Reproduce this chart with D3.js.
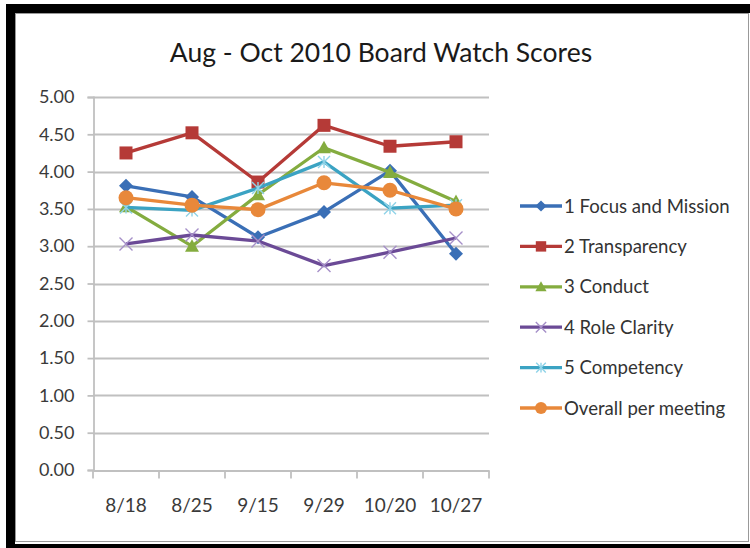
<!DOCTYPE html>
<html>
<head>
<meta charset="utf-8">
<script src="https://cdn.jsdelivr.net/npm/d3@7"></script>
<style>
  body { margin: 0; background: #fff; }
  svg { display: block; font-family: Lato, "Open Sans", sans-serif; }
</style>
</head>
<body>
<div id="chart"></div>
<script>
const meetings = ["8/18", "8/25", "9/15", "9/29", "10/20", "10/27"];
const yTicks = [0, 0.5, 1, 1.5, 2, 2.5, 3, 3.5, 4, 4.5, 5];

const focusMission = [3.81, 3.66, 3.12, 3.46, 4.01, 2.90];
const transparency = [4.25, 4.52, 3.86, 4.62, 4.34, 4.40];
const conduct = [3.53, 3.00, 3.69, 4.32, 3.99, 3.60];
const roleClarity = [3.03, 3.15, 3.07, 2.74, 2.92, 3.11];
const competency = [3.52, 3.48, 3.78, 4.13, 3.51, 3.55];
const overall = [3.65, 3.55, 3.49, 3.85, 3.75, 3.50];

const seriesNames = ["1 Focus and Mission", "2 Transparency", "3 Conduct", "4 Role Clarity", "5 Competency", "Overall per meeting"];
const seriesColors = ["#3a6fb6", "#b53a37", "#84ac3f", "#6b4a96", "#3ba3c3", "#e8883a"];
const seriesMarkers = ["diamond", "square", "triangle", "cross", "star", "circle"];
const seriesValues = [focusMission, transparency, conduct, roleClarity, competency, overall];

const W = 750, H = 548;
const svg = d3.select("#chart").append("svg").attr("width", W).attr("height", H);

// frame like the original screenshot
svg.append("rect").attr("x", 6).attr("y", 4).attr("width", W - 6).attr("height", H - 4).attr("fill", "#000");
svg.append("rect").attr("x", 15).attr("y", 13).attr("width", W - 15).attr("height", 531).attr("fill", "#fff");
svg.append("rect").attr("x", 15.5).attr("y", 13.5).attr("width", 733).attr("height", 528)
  .attr("fill", "none").attr("stroke", "#999").attr("stroke-width", 1);

const plot = { left: 93, right: 489, top: 97, bottom: 470 };

const x = d3.scaleBand().domain(meetings).range([plot.left, plot.right]);
const y = d3.scaleLinear().domain([0, 5]).range([plot.bottom, plot.top]);

svg.append("text")
  .attr("x", 381).attr("y", 62)
  .attr("text-anchor", "middle")
  .attr("font-size", 26.5)
  .attr("fill", "#1a1a1a")
  .text("Aug - Oct 2010 Board Watch Scores");

// gridlines
svg.append("g")
  .selectAll("line")
  .data(yTicks.filter(d => d > 0))
  .join("line")
  .attr("x1", plot.left).attr("x2", plot.right)
  .attr("y1", d => Math.round(y(d)) + 0.5).attr("y2", d => Math.round(y(d)) + 0.5)
  .attr("stroke", "#c0c0c0").attr("stroke-width", 1.8);

const yAxis = svg.append("g")
  .attr("transform", `translate(${plot.left + 0.5},0)`)
  .call(d3.axisLeft(y).tickValues(yTicks).tickFormat(d3.format(".2f")).tickSize(6).tickPadding(13));
yAxis.select(".domain").attr("stroke", "#c0c0c0").attr("stroke-width", 1.8);
yAxis.selectAll(".tick line").attr("stroke", "#c0c0c0").attr("stroke-width", 1.8);
yAxis.selectAll(".tick text").attr("font-size", 18).attr("fill", "#3a3a3a").attr("font-family", "Lato, sans-serif");

const xAxis = svg.append("g")
  .attr("transform", `translate(0,${Math.round(plot.bottom) + 0.5})`)
  .call(d3.axisBottom(x).tickSize(0).tickPadding(28));
xAxis.select(".domain").attr("stroke", "#c0c0c0").attr("stroke-width", 1.8);
xAxis.selectAll(".tick text").attr("font-size", 19).attr("fill", "#3a3a3a").attr("font-family", "Lato, sans-serif");
// category boundary ticks
xAxis.append("g")
  .selectAll("line")
  .data(meetings.concat(["end"]))
  .join("line")
  .attr("x1", (d, i) => (i < meetings.length ? x(d) : plot.right))
  .attr("x2", (d, i) => (i < meetings.length ? x(d) : plot.right))
  .attr("y1", 0).attr("y2", 8)
  .attr("stroke", "#c0c0c0").attr("stroke-width", 1.8);

function drawMarker(g, type, color, s) {
  if (type === "diamond") {
    g.append("path").attr("d", `M0,${-s}L${s},0L0,${s}L${-s},0Z`).attr("fill", color);
  } else if (type === "square") {
    g.append("rect").attr("x", -s).attr("y", -s).attr("width", 2 * s).attr("height", 2 * s).attr("fill", color);
  } else if (type === "triangle") {
    g.append("path").attr("d", `M0,${-s}L${s},${s * 0.8}L${-s},${s * 0.8}Z`).attr("fill", color);
  } else if (type === "cross") {
    g.append("path").attr("d", `M${-s},${-s}L${s},${s}M${-s},${s}L${s},${-s}`)
      .attr("stroke", "#a58fc8").attr("stroke-width", 1.4).attr("fill", "none");
  } else if (type === "star") {
    g.append("path").attr("d", `M${-s},${-s}L${s},${s}M${-s},${s}L${s},${-s}M0,${-s}L0,${s}`)
      .attr("stroke", "#8fd3e8").attr("stroke-width", 1.4).attr("fill", "none");
  } else if (type === "circle") {
    g.append("circle").attr("r", s).attr("fill", color);
  }
}

const markerSize = { diamond: 7, square: 6.5, triangle: 7, cross: 6.5, star: 6, circle: 7.5 };

const line = d3.line()
  .x((d, i) => x(meetings[i]) + x.bandwidth() / 2)
  .y(d => y(d));

seriesValues.forEach((vals, si) => {
  const color = seriesColors[si];
  svg.append("path")
    .datum(vals)
    .attr("d", line)
    .attr("fill", "none")
    .attr("stroke", color)
    .attr("stroke-width", 3.3)
    .attr("stroke-linejoin", "round");
  vals.forEach((v, i) => {
    const g = svg.append("g")
      .attr("transform", `translate(${x(meetings[i]) + x.bandwidth() / 2},${y(v)})`);
    drawMarker(g, seriesMarkers[si], color, markerSize[seriesMarkers[si]]);
  });
});

// legend
const legend = svg.append("g").attr("transform", "translate(520,206)");
seriesNames.forEach((name, i) => {
  const g = legend.append("g").attr("transform", `translate(0,${i * 40.4})`);
  g.append("line").attr("x1", 0).attr("x2", 42).attr("y1", 0).attr("y2", 0)
    .attr("stroke", seriesColors[i]).attr("stroke-width", 3.3);
  const m = g.append("g").attr("transform", "translate(21,0)");
  drawMarker(m, seriesMarkers[i], seriesColors[i], markerSize[seriesMarkers[i]] * 0.8);
  g.append("text").attr("x", 44).attr("y", 6.5)
    .attr("font-size", 18.6).attr("fill", "#333").text(name);
});
</script>
</body>
</html>
